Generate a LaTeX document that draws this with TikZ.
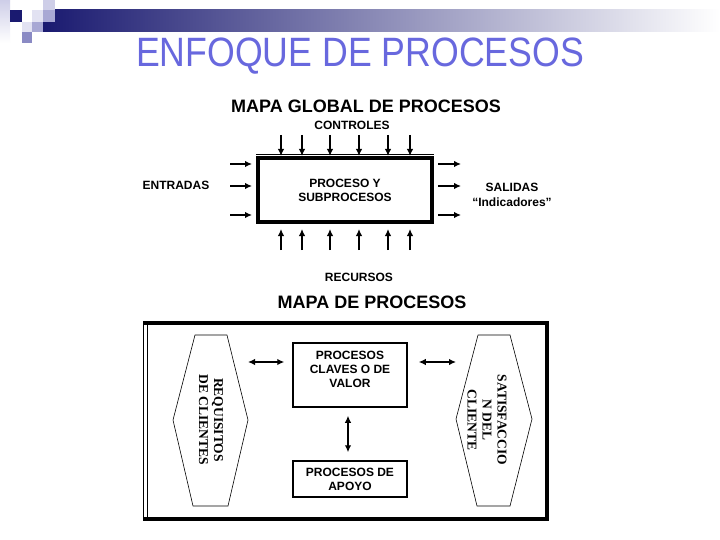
\documentclass[tikz,border=0pt]{standalone}
\usepackage{fontspec}
\setmainfont{Liberation Sans}
\newfontfamily\hexfont{Liberation Serif}
\usetikzlibrary {arrows.meta}
\usetikzlibrary {calc}
\definecolor{titulo}{RGB}{104,104,222}
\definecolor{marino}{RGB}{26,26,112}
\definecolor{lila}{RGB}{206,206,232}
\definecolor{lilaclaro}{RGB}{226,226,242}
\definecolor{lilamedio}{RGB}{168,168,212}
\definecolor{liladark}{RGB}{138,138,196}

\begin{document}
\begin{tikzpicture}[x=1pt, y=-1pt,
    flecha/.style={-{Latex[length=7pt,width=6.5pt]}, line width=1.8pt},
    doble/.style={{Latex[length=7pt,width=6.5pt]}-{Latex[length=7pt,width=6.5pt]}, line width=1.8pt},
    texto/.style={font=\bfseries\fontsize{12}{14}\selectfont, align=center},
    hextexto/.style={font=\hexfont\bfseries\fontsize{13.5}{15}\selectfont, align=center, rotate=-90}]
    \useasboundingbox [fill=white] (0,0) rectangle (720,540);
    % cabecera
    \shade [left color=marino, right color=white] (43,10) rectangle (720,32);
    \shade [top color=lila, bottom color=white] (0,0) rectangle (10,43);
    \fill [marino] (10,10) rectangle (22,22);
    \fill [lila] (43,0) rectangle (55,10);
    \fill [lilaclaro] (32,10) rectangle (43,22);
    \fill [lilamedio] (43,10) rectangle (55,22);
    \fill [lilaclaro] (22,22) rectangle (32,32);
    \fill [lilamedio] (32,22) rectangle (43,32);
    \fill [liladark] (22,32) rectangle (32,43);
    \node [text=titulo, font=\fontsize{41}{41}\selectfont] (tit) at (360,56) {\scalebox{0.87}[1]{ENFOQUE DE PROCESOS}};

    % mapa global
    \node [font=\bfseries\fontsize{18}{18}\selectfont] (global) at (366,106) {MAPA GLOBAL DE PROCESOS};
    \node [texto] (ctrl) at (352,125) {CONTROLES};
    \node [draw, line width=4pt, minimum width=174pt, minimum height=64pt, texto] (proc) at (345,190) {PROCESO Y\\SUBPROCESOS};
    \draw [line width=0.8pt] ($(proc.north west)+(0,-2)$) -- ($(proc.north east)+(0,-2)$);
    \foreach \x in {281,302,330,359,388,410} {
        \draw [flecha] (\x,135) -- (proc.north -| \x,0);
        \draw [flecha] (\x,250) -- ($(proc.south -| \x,0)+(0,5)$);
    }
    \foreach \y in {164,186,215} {
        \draw [flecha] (230,\y) -- ($(proc.west |- 0,\y)+(-4,0)$);
        \draw [flecha] ($(proc.east |- 0,\y)+(4,0)$) -- (461,\y);
    }
    \node [texto] (ent) at (176,185) {ENTRADAS};
    \node [texto] (sal) at (512,187) {SALIDAS};
    \node [texto] (ind) at (512,202) {“Indicadores”};
    \node [texto] (rec) at (359,277) {RECURSOS};

    % mapa de procesos
    \node [font=\bfseries\fontsize{18}{18}\selectfont] (mapa) at (372,302) {MAPA DE PROCESOS};
    \draw [line width=4pt] (143,323) -- (547,323) -- (547,519) -- (143,519);
    \draw [line width=1pt] (143,321) -- (143,521);
    \draw [line width=0.6pt] (147,325) -- (147,517);
    \draw [line width=0.6pt] (195,335) -- (227,335) -- (248,420) -- (228,506) -- (193,506) -- (173,420) -- cycle;
    \draw [line width=0.6pt] (478,335) -- (510,335) -- (532,419) -- (510,506) -- (477,506) -- (456,419) -- cycle;
    \coordinate (reqtip) at (248,420);
    \coordinate (sattip) at (456,419);
    \node [hextexto] (req) at (211,420) {REQUISITOS\\DE CLIENTES};
    \node [hextexto] (sat) at (487,420) {SATISFACCIO\\N DEL\\CLIENTE};
    \node [draw, line width=1.5pt, minimum width=114pt, minimum height=64pt] (clave) at (350,375) {};
    \node [texto] (clavetxt) at (350,369.5) {PROCESOS\\CLAVES O DE\\VALOR};
    \node [draw, line width=1.5pt, minimum width=114pt, minimum height=36pt, texto] (apoyo) at (350,479) {PROCESOS DE\\APOYO};
    \coordinate (fy) at (0,362);
    \draw [doble] (reqtip |- fy) -- ($(clave.west |- fy)+(-8,0)$);
    \draw [doble] ($(clave.east |- fy)+(11,0)$) -- (sattip |- fy);
    \draw [doble] ($(clave.south)+(-2,8)$) -- ($(apoyo.north)+(-2,-8)$);
\end{tikzpicture}
\end{document}
